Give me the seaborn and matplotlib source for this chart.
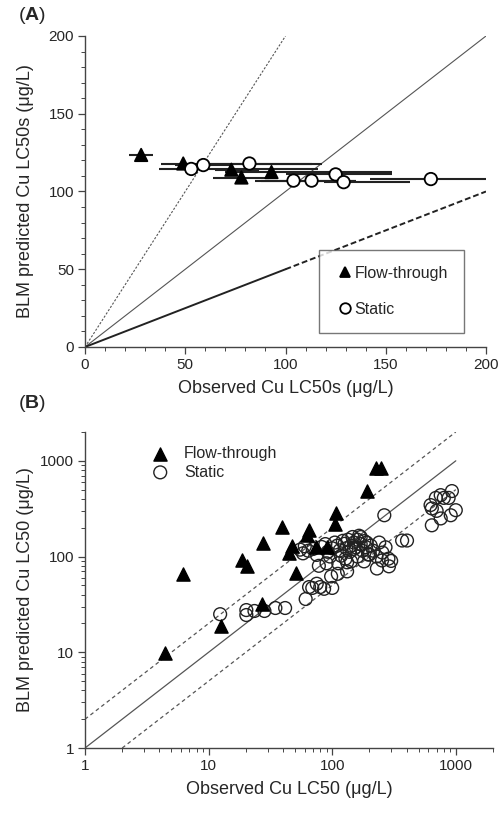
import numpy as np
import pandas as pd
import matplotlib
matplotlib.use("Agg")
import matplotlib.pyplot as plt
from matplotlib.ticker import MultipleLocator, LogLocator, NullFormatter, FixedLocator
import seaborn as sns

sns.set_style("ticks")
plt.rcParams['font.family'] = ['Liberation Sans', 'DejaVu Sans']
plt.rcParams['mathtext.fontset'] = 'custom'
plt.rcParams['mathtext.bf'] = 'Liberation Sans:bold'
plt.rcParams['mathtext.rm'] = 'Liberation Sans'

# ---------------- Panel A data ----------------
a_flow_x = [28, 49, 73, 78, 93]
a_flow_y = [123.5, 118, 114, 109, 112.5]
a_flow_lo = [22, 38, 65, 64, 70]
a_flow_hi = [34, 113, 87, 92, 153]

a_static_x = [53, 59, 82, 104, 113, 125, 129, 172.5]
a_static_y = [114.5, 117, 118, 107, 107, 111, 106, 108]
a_static_lo = [37, 45, 57, 85, 88, 100, 119, 142]
a_static_hi = [116, 73, 118, 135, 135, 153, 162, 200]

# ---------------- Panel B data ----------------
b_flow_x = [4.4, 6.2, 12.5, 18.5, 20.6, 26.8, 27.5, 39.5, 45, 47.6, 51, 65, 63, 74, 91,
            105, 108, 192, 226, 247]
b_flow_y = [9.8, 65, 19, 91, 80, 32, 140, 205, 108, 130, 67, 188, 166, 127, 127,
            218, 285, 480, 846, 846]

b_static_x = [12.4, 20.2, 20.2, 23.5, 28.3, 34.7, 41.6, 61, 65, 69, 75, 80, 86, 100,
              78, 98, 111, 132, 132, 142, 181, 253, 288, 264, 368, 403,
              640, 755, 930, 875, 1000, 910, 755, 640, 625, 690, 800, 700,
              55, 60, 58, 64, 70, 75, 82, 88, 92, 96, 100, 105, 110, 115, 118, 122,
              126, 130, 134, 138, 142, 146, 150, 155, 160, 165, 170, 176, 182, 188,
              195, 205, 215, 228, 240, 255, 270, 285, 300, 90, 112, 128, 160, 200,
              230, 150, 170, 190]
b_static_y = [25, 27.6, 24.5, 27, 27, 29, 29, 36, 48, 47, 52, 48, 46, 47,
              80, 62, 66, 70, 87, 89, 89, 91, 79, 270, 147, 147,
              318, 438, 483, 410, 305, 270, 250, 212, 345, 410, 410, 300,
              118, 128, 108, 115, 120, 104, 126, 135, 112, 100, 122, 140, 130, 116, 102, 146,
              136, 122, 150, 112, 130, 160, 140, 125, 150, 165, 135, 115, 145, 125,
              105, 130, 115, 100, 140, 110, 125, 95, 90, 85, 85, 95, 100, 105,
              75, 120, 160, 140]

# ---------------- Figure ----------------
fig = plt.figure(figsize=(5.01, 8.14), dpi=100)
axA = fig.add_axes([85/501, 1-347/814, 401/501, 311/814])
axB = fig.add_axes([85/501, 1-748/814, 408/501, 316/814])

spine_col = '#444444'
line_col = '#555555'

# ----- Panel A -----
lims = np.array([0, 200])
axA.plot([0, 100], [0, 200], ls=(0, (2, 1.5)), color=line_col, lw=0.8, zorder=1)
axA.plot(lims, lims, ls='-', color=line_col, lw=0.8, zorder=1)
axA.plot([0, 100], [0, 50], ls='-', color='#222222', lw=1.4, zorder=1)
axA.plot([100, 200], [50, 100], ls=(0, (3, 1.5)), color='#222222', lw=1.4, zorder=1)

axA.hlines(a_flow_y, a_flow_lo, a_flow_hi, color='#222222', lw=1.5, zorder=2)
axA.hlines(a_static_y, a_static_lo, a_static_hi, color='#222222', lw=1.5, zorder=2)

dfA = pd.DataFrame({
    'x': a_flow_x + a_static_x,
    'y': a_flow_y + a_static_y,
    'Type': ['Flow-through'] * len(a_flow_x) + ['Static'] * len(a_static_x),
})
sns.scatterplot(data=dfA, x='x', y='y', hue='Type', style='Type',
                palette={'Flow-through': 'black', 'Static': 'white'},
                markers={'Flow-through': '^', 'Static': 'o'},
                edgecolor='black', linewidth=1.3, s=80, ax=axA, zorder=3)

axA.set_xlim(0, 200)
axA.set_ylim(0, 200)
axA.xaxis.set_major_locator(MultipleLocator(50))
axA.yaxis.set_major_locator(MultipleLocator(50))
axA.xaxis.set_minor_locator(MultipleLocator(10))
axA.yaxis.set_minor_locator(MultipleLocator(10))
axA.set_xlabel('Observed Cu LC50s (μg/L)', fontsize=13, labelpad=6)
axA.set_ylabel('BLM predicted Cu LC50s (μg/L)', fontsize=13, labelpad=10)

hA, lA = axA.get_legend_handles_labels()
legA = axA.legend(hA, lA, loc='lower right', bbox_to_anchor=(0.965, 0.02),
                  frameon=True, fancybox=False, edgecolor='#555555', fontsize=11.5,
                  handletextpad=0.0, labelspacing=1.3, borderpad=1.0, handlelength=1.2,
                  markerscale=0.85)
legA.get_frame().set_linewidth(1.0)

# ----- Panel B -----
axB.plot([1, 1000], [1, 1000], ls='-', color=line_col, lw=0.9, zorder=1)
axB.plot([1, 1000], [2, 2000], ls=(0, (3, 2.5)), color=line_col, lw=0.9, zorder=1)
axB.plot([2, 1000], [1, 500], ls=(0, (3, 2.5)), color=line_col, lw=0.9, zorder=1)

dfB = pd.DataFrame({
    'x': b_flow_x + b_static_x,
    'y': b_flow_y + b_static_y,
    'Type': ['Flow-through'] * len(b_flow_x) + ['Static'] * len(b_static_x),
})
dfB_static = dfB[dfB['Type'] == 'Static']
dfB_flow = dfB[dfB['Type'] == 'Flow-through']
sns.scatterplot(data=dfB_static, x='x', y='y', marker='o', facecolor='none',
                edgecolor='#222222', linewidth=1.0, s=85, ax=axB, zorder=2,
                label='Static')
sns.scatterplot(data=dfB_flow, x='x', y='y', marker='^', color='black',
                edgecolor='black', linewidth=1.0, s=90, ax=axB, zorder=3,
                label='Flow-through')

axB.set_xscale('log')
axB.set_yscale('log')
axB.set_xlim(1, 2000)
axB.set_ylim(1, 2000)
axB.xaxis.set_major_locator(FixedLocator([1, 10, 100, 1000]))
axB.yaxis.set_major_locator(FixedLocator([1, 10, 100, 1000]))
axB.set_xticklabels(['1', '10', '100', '1000'])
axB.set_yticklabels(['1', '10', '100', '1000'])
axB.xaxis.set_minor_locator(LogLocator(base=10, subs=np.arange(2, 10), numticks=20))
axB.yaxis.set_minor_locator(LogLocator(base=10, subs=np.arange(2, 10), numticks=20))
axB.xaxis.set_minor_formatter(NullFormatter())
axB.yaxis.set_minor_formatter(NullFormatter())
axB.set_xlabel('Observed Cu LC50 (μg/L)', fontsize=13, labelpad=6)
axB.set_ylabel('BLM predicted Cu LC50 (μg/L)', fontsize=13, labelpad=4)

hB, lB = axB.get_legend_handles_labels()
order = [lB.index('Flow-through'), lB.index('Static')]
axB.legend([hB[i] for i in order], [lB[i] for i in order], loc='upper left',
           bbox_to_anchor=(0.11, 1.0), frameon=False, fontsize=11.5,
           handletextpad=0.5, labelspacing=0.2)

for ax in (axA, axB):
    sns.despine(ax=ax)
    for sp in ('left', 'bottom'):
        ax.spines[sp].set_color(spine_col)
        ax.spines[sp].set_linewidth(1.0)
    ax.tick_params(which='major', direction='out', length=5, width=0.9,
                   color=spine_col, labelsize=11, pad=3)
    ax.tick_params(which='minor', direction='out', length=3, width=0.7,
                   color=spine_col)

fig.text(18/501, 1-16/814, r'($\mathbf{A}$)', fontsize=14, va='center', ha='left')
fig.text(18/501, 1-404/814, r'($\mathbf{B}$)', fontsize=14, va='center', ha='left')

fig.savefig('out.png', dpi=100)
